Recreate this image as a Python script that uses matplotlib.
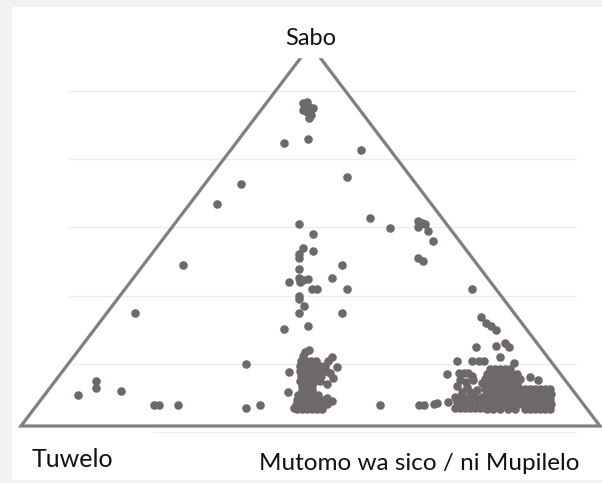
import numpy as np
import matplotlib.pyplot as plt

# corner labels of the ternary plot
top_label = 'Sabo'
left_label = 'Tuwelo'
right_label = 'Mutomo wa sico / ni Mupilelo'

# triangle in plot units: x = position along the base (%), y = Sabo share (%)
triangle_x = [0, 50, 100]
triangle_y = [0, 100, 0]

# faint horizontal guide lines (same units as y)
grid_levels = [-1.6, 16.3, 34.2, 52.1, 70.0, 87.9]

# loose points, upper part and outliers
loose_x = [48.7, 49.4, 49.7, 50.4, 49.4, 50.1, 49.7, 49.1, 48.7,
           45.4, 49.6, 58.7, 56.3, 38.0, 33.9, 60.3, 63.7,
           68.6, 69.3, 69.8, 68.6, 70.3, 71.2, 68.6, 69.4,
           48.0, 50.4, 48.7, 50.4, 48.0, 48.0, 48.0, 55.4, 48.0, 48.7, 49.6, 46.3,
           48.2, 53.7, 50.3, 51.1, 56.3, 48.0, 48.0, 48.9, 48.0, 55.4, 45.4, 49.6,
           19.7, 28.0,
           77.9, 79.4, 80.3, 81.2, 82.0,
           9.8, 13.0, 13.0, 17.3, 23.0, 23.8, 27.1, 38.9, 38.9, 41.3, 62.0,
           78.6, 82.0, 83.6, 84.3, 75.3, 77.9, 79.1, 80.0, 82.7, 85.1, 73.6,
           68.7, 69.6, 71.3, 71.8, 73.7]
loose_y = [84.8, 85.0, 83.7, 83.5, 82.4, 81.6, 80.8, 83.7, 83.0,
           74.3, 75.3, 72.4, 65.4, 63.5, 58.3, 54.6, 52.0,
           53.8, 53.3, 53.0, 52.2, 51.2, 48.6, 44.1, 43.3,
           53.0, 50.4, 46.7, 45.9, 45.1, 44.1, 41.2, 42.3, 38.8, 38.3, 38.6, 37.8,
           37.8, 38.8, 36.0, 36.0, 36.0, 34.1, 33.3, 31.5, 29.7, 29.7, 25.5, 26.2,
           29.7, 42.3,
           36.0, 28.6, 27.0, 26.2, 25.2,
           8.1, 11.8, 10.0, 9.2, 5.5, 5.5, 5.5, 16.3, 4.7, 5.5, 5.5,
           20.7, 21.0, 21.8, 20.7, 17.1, 17.1, 17.1, 17.1, 18.1, 16.5, 13.6,
           5.5, 5.5, 5.8, 6.0, 6.3]

# dense group in the middle of the base
centre_x = [49.1, 49.7, 48.7, 53.7, 53.0, 46.3, 54.6, 53.4, 53.9, 52.8, 46.1,
            48.4, 49.2, 50.1, 50.9,
            48.2, 49.1, 49.9, 50.8, 51.6, 52.5,
            48.2, 49.1, 49.9, 50.8, 51.6, 52.7,
            48.4, 49.2, 50.1, 50.9, 51.8,
            48.2, 49.1, 49.9, 50.8, 51.6,
            48.5, 49.4, 50.3,
            48.5, 49.4, 50.3,
            47.8, 48.7, 49.6, 50.4, 51.3,
            47.7, 48.5, 49.4, 50.3, 51.1, 52.0,
            47.5, 48.4, 49.2, 50.1, 50.9, 51.8,
            47.7, 48.5, 49.4, 50.3, 51.1, 52.0,
            47.2, 52.8, 53.7, 52.8]
centre_y = [19.4, 19.9, 18.4, 18.1, 17.1, 14.2, 15.5, 13.9, 12.6, 11.0, 8.9,
            17.1, 17.1, 17.1, 17.1,
            15.7, 15.7, 15.7, 15.7, 15.7, 15.7,
            14.4, 14.4, 14.4, 14.4, 14.4, 14.4,
            13.1, 13.1, 13.1, 13.1, 13.1,
            11.8, 11.8, 11.8, 11.8, 11.8,
            10.5, 10.5, 10.5,
            9.4, 9.4, 9.4,
            8.1, 8.1, 8.1, 8.1, 8.1,
            6.8, 6.8, 6.8, 6.8, 6.8, 6.8,
            5.5, 5.5, 5.5, 5.5, 5.5, 5.5,
            4.5, 4.5, 4.5, 4.5, 4.5, 4.5,
            4.7, 7.3, 6.6, 5.8]

# dense group towards the Mutomo corner
right_x = [75.6, 76.5, 77.2, 77.9, 75.8, 76.9, 78.1, 79.6, 78.8, 77.5, 76.2, 75.0,
           75.8, 78.4, 79.6, 75.3, 77.0, 76.5, 77.5,
           75.3, 76.7, 77.5, 78.9, 80.1,
           75.0, 75.8, 76.7, 77.5, 78.4, 79.3, 80.1,
           81.0, 81.9, 82.7, 83.6, 84.5,
           80.5, 81.3, 82.2, 83.1, 83.9, 84.8, 85.7,
           80.1, 81.0, 81.9, 82.7, 83.6, 84.5, 85.3, 86.2,
           80.5, 81.3, 82.2, 83.1, 83.9, 84.8, 85.7,
           80.1, 81.0, 81.9, 82.7, 83.6, 84.5, 85.3, 86.2, 87.0, 87.9, 88.8, 89.6, 90.5, 91.3,
           80.5, 81.3, 82.2, 83.1, 83.9, 84.8, 85.7, 86.5, 87.4, 88.3, 89.1, 90.0, 90.8, 91.5,
           80.6, 81.9, 82.7, 83.6, 84.5, 85.3, 86.2, 87.0, 87.9, 88.8, 89.6, 90.5, 91.3,
           81.0, 82.2, 83.1, 83.9, 84.8, 85.7, 86.5, 87.4, 88.3, 89.1, 90.0, 90.8, 91.5,
           80.5, 81.5, 82.7, 84.1, 85.3, 87.0, 87.9, 88.8, 89.6, 90.5, 91.3,
           87.9, 89.3]
right_y = [13.9, 13.9, 13.9, 13.1, 12.1, 11.5, 12.1, 11.3, 9.4, 8.9, 8.9, 7.6,
           7.6, 7.6, 7.6, 10.5, 10.2, 7.3, 7.1,
           6.3, 6.3, 6.3, 6.3, 6.3,
           4.7, 4.7, 4.7, 4.7, 4.7, 4.7, 4.7,
           15.0, 15.0, 15.0, 15.0, 15.0,
           13.6, 13.6, 13.6, 13.6, 13.6, 13.6, 13.6,
           12.3, 12.3, 12.3, 12.3, 12.3, 12.3, 12.3, 12.3,
           11.0, 11.0, 11.0, 11.0, 11.0, 11.0, 11.0,
           9.7, 9.7, 9.7, 9.7, 9.7, 9.7, 9.7, 9.7, 9.7, 9.7, 9.7, 9.7, 9.7, 9.7,
           8.4, 8.4, 8.4, 8.4, 8.4, 8.4, 8.4, 8.4, 8.4, 8.4, 8.4, 8.4, 8.4, 8.4,
           7.1, 7.1, 7.1, 7.1, 7.1, 7.1, 7.1, 7.1, 7.1, 7.1, 7.1, 7.1, 7.1,
           5.8, 5.8, 5.8, 5.8, 5.8, 5.8, 5.8, 5.8, 5.8, 5.8, 5.8, 5.8, 5.8,
           4.5, 4.5, 4.5, 4.5, 4.5, 4.5, 4.5, 4.5, 4.5, 4.5, 4.5,
           12.9, 12.1]

line_color = '#7f7f7f'
dot_color = '#6e6969'
grid_color = '#ececec'

fig = plt.figure(figsize=(6.02, 4.83), dpi=100, facecolor='#f2f2f2')
ax = fig.add_axes([12 / 602, 3 / 483, 590 / 602, 473 / 483])
ax.set_facecolor('white')
ax.set_xlim(-1.55, 100.35)
ax.set_ylim(-14.17, 109.97)
for spine in ax.spines.values():
    spine.set_visible(False)
ax.set_xticks([])
ax.set_yticks([])

# guide lines (the lowest one is partly hidden behind the label box)
ax.hlines(grid_levels[1:], 8.3, 95.9, color=grid_color, lw=0.9, zorder=1)
ax.hlines(grid_levels[0], 22.8, 95.9, color=grid_color, lw=0.9, zorder=1)

tri = plt.Polygon(np.column_stack([triangle_x, triangle_y]), closed=True, fill=False,
                  edgecolor=line_color, lw=2.3, joinstyle='miter', zorder=2)
ax.add_patch(tri)

# white box behind the top label hides the apex
ax.axhspan(96.9, 109.97, color='white', zorder=3)

ax.scatter(loose_x + centre_x + right_x, loose_y + centre_y + right_y,
           s=38, color=dot_color, linewidths=0, zorder=4)

ax.text(50, 100.0, top_label, ha='center', va='baseline', fontsize=17,
        family='Lato', color='#111111', zorder=5)
ax.text(1.9, -10.8, left_label, ha='left', va='baseline', fontsize=18,
        family='Lato', color='#111111', zorder=5)
ax.text(41.1, -11.5, right_label, ha='left', va='baseline', fontsize=17.5,
        family='Lato', color='#111111', zorder=5)

fig.savefig('out.png', dpi=100, facecolor=fig.get_facecolor())
